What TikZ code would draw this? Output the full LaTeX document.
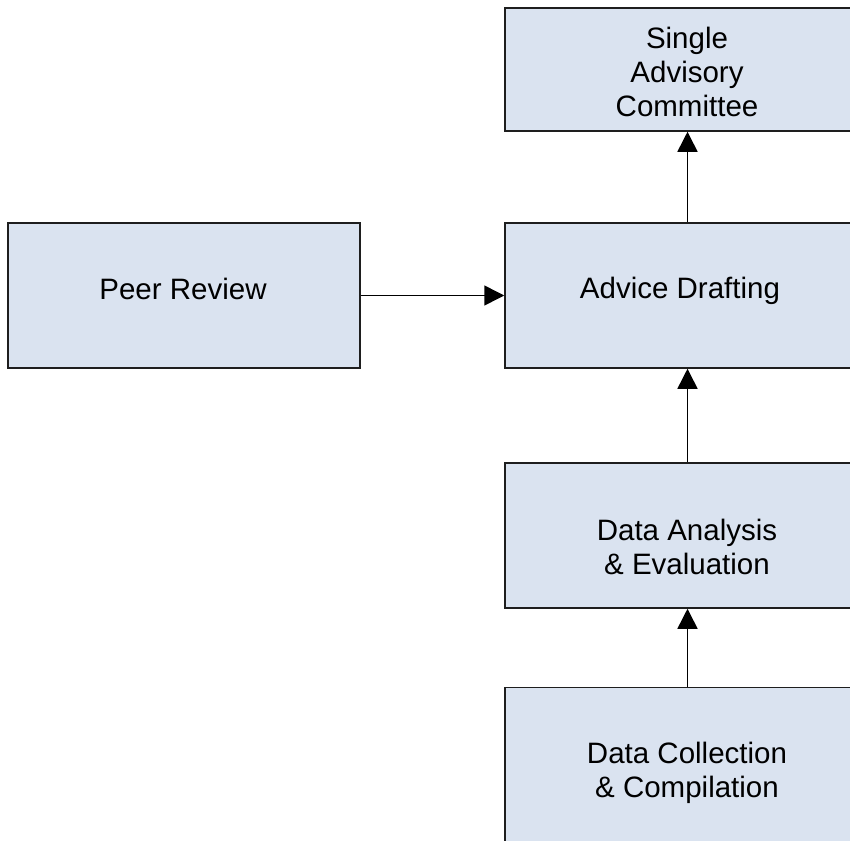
\documentclass[tikz,border=0pt]{standalone}
\usepackage{fontspec}
\setmainfont{Liberation Sans}
\usetikzlibrary{arrows.meta}
\definecolor{boxfill}{RGB}{218,227,240}
\definecolor{boxline}{RGB}{30,30,30}
\tikzset{
  box/.style={draw=boxline, fill=boxfill, line width=1.5pt, rectangle, inner sep=0pt},
  lbl/.style={align=center, inner sep=0pt, text depth=0pt, font=\fontsize{29.5}{34}\selectfont},
  conn/.style={draw=black, line width=1.5pt, -{Triangle[length=20pt,width=20pt]}},
}
\begin{document}
\begin{tikzpicture}[x=1pt,y=-1pt]
\useasboundingbox (0,0) rectangle (850,840);
\clip (0,0) rectangle (850,840);
\node[box, minimum width=365pt, minimum height=123pt] (sac) at (687.5,69.5) {};
\node[box, minimum width=365pt, minimum height=145pt] (ad) at (687.5,295.5) {};
\node[box, minimum width=352pt, minimum height=145pt] (pr) at (184,295.5) {};
\node[box, minimum width=365pt, minimum height=145pt] (da) at (687.5,535.5) {};
\node[box, minimum width=365pt, minimum height=180pt] (dc) at (687.5,777.5) {};
\node[lbl] (tsac) at (687,71.5) {Single\\Advisory\\Committee};
\node[lbl] (tad) at (680,288) {Advice Drafting};
\node[lbl] (tpr) at (183,289) {Peer Review};
\node[lbl] (tda) at (687,546.5) {Data Analysis\\\&~Evaluation};
\node[lbl] (tdc) at (687,770) {Data Collection\\\&~Compilation};
\draw[conn] (ad.north) -- (sac.south);
\draw[conn] (da.north) -- (ad.south);
\draw[conn] (dc.north) -- (da.south);
\draw[conn] (pr.east) -- (ad.west);
\end{tikzpicture}
\end{document}
